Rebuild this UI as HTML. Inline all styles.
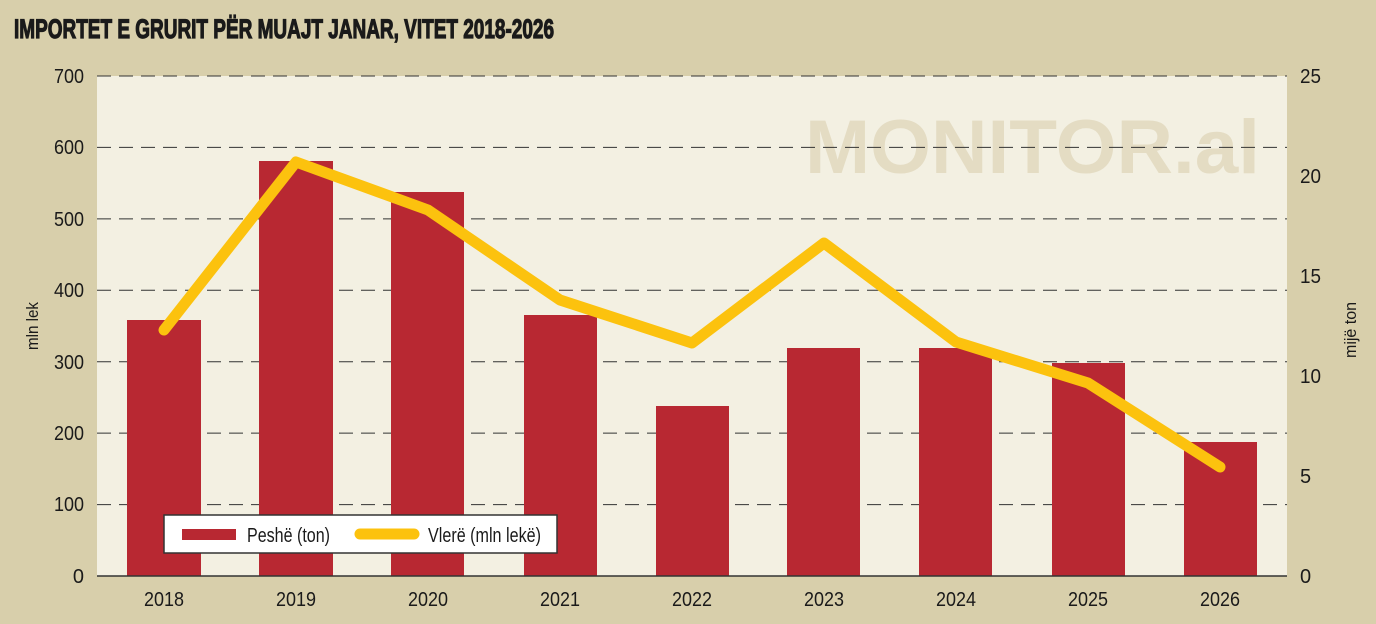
<!DOCTYPE html><html><head><meta charset="utf-8"><style>
body{margin:0;width:1376px;height:624px;background:#d8cfab;overflow:hidden}
svg{display:block}
text{font-family:"Liberation Sans Narrow","Liberation Sans",sans-serif;fill:#1a1a1a}
</style></head><body>
<svg width="1376" height="624" viewBox="0 0 1376 624">
<rect width="1376" height="624" fill="#d8cfab"/>
<text x="14" y="38" font-size="27" font-weight="bold" textLength="540" lengthAdjust="spacingAndGlyphs" stroke="#1a1a1a" stroke-width="1.2">IMPORTET E GRURIT PËR MUAJT JANAR, VITET 2018-2026</text>
<rect x="97" y="76" width="1190" height="500" fill="#f3f0e2"/>
<text x="1260" y="173" font-size="76" font-weight="bold" text-anchor="end" style="fill:#e4dcc3;font-family:'Liberation Sans',sans-serif" textLength="455" lengthAdjust="spacingAndGlyphs">MONITOR.al</text>
<g stroke="#333" stroke-width="1" stroke-dasharray="14,8">
<line x1="97" x2="1287" y1="76" y2="76"/><line x1="97" x2="1287" y1="147.4" y2="147.4"/><line x1="97" x2="1287" y1="218.9" y2="218.9"/><line x1="97" x2="1287" y1="290.3" y2="290.3"/><line x1="97" x2="1287" y1="361.7" y2="361.7"/><line x1="97" x2="1287" y1="433.1" y2="433.1"/><line x1="97" x2="1287" y1="504.6" y2="504.6"/>
</g>
<g fill="#b82832">
<rect x="127" y="320" width="74" height="256"/><rect x="259" y="161" width="74" height="415"/><rect x="391" y="192" width="73" height="384"/><rect x="524" y="315" width="73" height="261"/><rect x="656" y="406" width="73" height="170"/><rect x="787" y="348" width="73" height="228"/><rect x="919" y="348" width="73" height="228"/><rect x="1052" y="363" width="73" height="213"/><rect x="1184" y="442" width="73" height="134"/>
</g>
<line x1="97" x2="1287" y1="576" y2="576" stroke="#333" stroke-width="1.5"/>
<polyline points="164,330 296,162 428,210 560,300 692,343 824,243 956,342 1088,383 1220,467" fill="none" stroke="#fcc20e" stroke-width="11" stroke-linejoin="round" stroke-linecap="round"/>
<g font-size="20" text-anchor="end">
<text x="84" y="83" textLength="30" lengthAdjust="spacingAndGlyphs">700</text><text x="84" y="154" textLength="30" lengthAdjust="spacingAndGlyphs">600</text><text x="84" y="226" textLength="30" lengthAdjust="spacingAndGlyphs">500</text><text x="84" y="297" textLength="30" lengthAdjust="spacingAndGlyphs">400</text><text x="84" y="369" textLength="30" lengthAdjust="spacingAndGlyphs">300</text><text x="84" y="440" textLength="30" lengthAdjust="spacingAndGlyphs">200</text><text x="84" y="511" textLength="30" lengthAdjust="spacingAndGlyphs">100</text><text x="84" y="583">0</text>
</g>
<g font-size="20" text-anchor="start">
<text x="1300" y="83" textLength="21" lengthAdjust="spacingAndGlyphs">25</text><text x="1300" y="183" textLength="21" lengthAdjust="spacingAndGlyphs">20</text><text x="1300" y="283" textLength="21" lengthAdjust="spacingAndGlyphs">15</text><text x="1300" y="383" textLength="21" lengthAdjust="spacingAndGlyphs">10</text><text x="1300" y="483">5</text><text x="1300" y="583">0</text>
</g>
<g font-size="20" text-anchor="middle">
<text x="164" y="606" textLength="40" lengthAdjust="spacingAndGlyphs">2018</text><text x="296" y="606" textLength="40" lengthAdjust="spacingAndGlyphs">2019</text><text x="428" y="606" textLength="40" lengthAdjust="spacingAndGlyphs">2020</text><text x="560" y="606" textLength="40" lengthAdjust="spacingAndGlyphs">2021</text><text x="692" y="606" textLength="40" lengthAdjust="spacingAndGlyphs">2022</text><text x="824" y="606" textLength="40" lengthAdjust="spacingAndGlyphs">2023</text><text x="956" y="606" textLength="40" lengthAdjust="spacingAndGlyphs">2024</text><text x="1088" y="606" textLength="40" lengthAdjust="spacingAndGlyphs">2025</text><text x="1220" y="606" textLength="40" lengthAdjust="spacingAndGlyphs">2026</text>
</g>
<text transform="translate(38,326) rotate(-90)" font-size="17" text-anchor="middle" textLength="48" lengthAdjust="spacingAndGlyphs">mln lek</text>
<text transform="translate(1356,330) rotate(-90)" font-size="17" text-anchor="middle" textLength="56" lengthAdjust="spacingAndGlyphs">mijë ton</text>
<rect x="164" y="515" width="393" height="38" fill="#fff" stroke="#333" stroke-width="1.5"/>
<rect x="182" y="529" width="54" height="11" fill="#b82832"/>
<text x="247" y="542" font-size="20" textLength="83" lengthAdjust="spacingAndGlyphs">Peshë (ton)</text>
<line x1="360" x2="414" y1="534" y2="534" stroke="#fcc20e" stroke-width="11" stroke-linecap="round"/>
<text x="428" y="542" font-size="20" textLength="113" lengthAdjust="spacingAndGlyphs">Vlerë (mln lekë)</text>
</svg>
</body></html>
